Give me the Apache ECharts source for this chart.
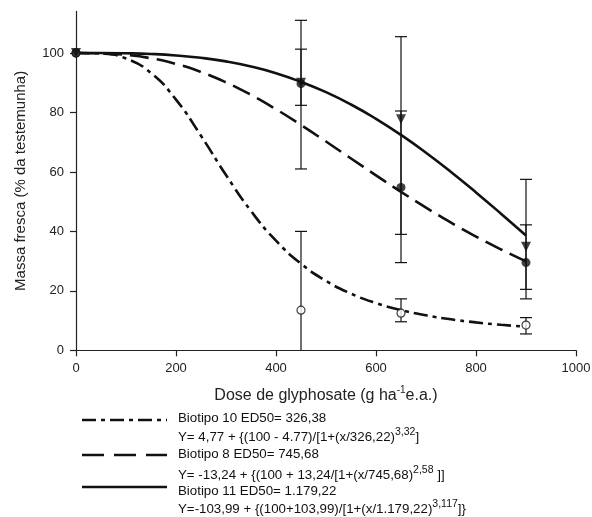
<!DOCTYPE html>
<html>
<head>
<meta charset="utf-8">
<script src="https://cdn.jsdelivr.net/npm/echarts@6/dist/echarts.min.js"></script>
<style>
  html, body { margin: 0; padding: 0; background: #fff; }
  #grafica { width: 592px; height: 517px; }
</style>
</head>
<body>
<div id="grafica"></div>
<script>
// doses com pontos observados
const doses = [0, 450, 650, 900];

// Biotipo 10 (circulo aberto)
const b10Media = [100, 13.5, 12.5, 8.5];
const b10Min = [null, -12, 9.6, 5.5];
const b10Max = [null, 40, 17.3, 11];

// Biotipo 8 (circulo cheio)
const b8Media = [100, 89.7, 54.8, 29.5];
const b8Min = [null, 82.4, 29.5, 17.3];
const b8Max = [null, 101.3, 80.5, 42.2];

// Biotipo 11 (triangulo)
const b11Media = [100, 90, 77.7, 34.8];
const b11Min = [null, 61, 39, 20.5];
const b11Max = [null, 111, 105.5, 57.5];

// curvas ajustadas (x de 0 a 900, passo 50)
const curvaX = [0, 50, 100, 150, 200, 250, 300, 350, 400, 450, 500, 550, 600, 650, 700, 750, 800, 850, 900];
const curva10 = [100, 99.81, 98.16, 93.28, 84.32, 72.15, 58.96, 46.85, 36.86, 29.13, 23.34, 19.06, 15.89, 13.54, 11.77, 10.42, 9.38, 8.57, 7.94];
const curva8 = [100, 99.89, 99.37, 98.22, 96.33, 93.63, 90.13, 85.91, 81.09, 75.81, 70.23, 64.53, 58.85, 53.31, 47.99, 42.96, 38.26, 33.91, 29.9];
const curva11 = [100, 100, 99.91, 99.67, 99.19, 98.39, 97.18, 95.48, 93.22, 90.3, 86.84, 82.68, 77.87, 72.44, 66.46, 59.99, 53.12, 45.96, 38.6];

const ticksY = [0, 20, 40, 60, 80, 100];

const pares = (xs, ys) => xs.map((x, i) => [x, ys[i]]);
const barras = (mins, maxs) => doses
  .map((x, i) => [x, mins[i], maxs[i]])
  .filter(d => d[1] !== null);

const preto = '#111';
const fonte = 'Liberation Sans, Arial, sans-serif';

function desenhaBarra(params, api) {
  const x = api.value(0);
  const lo = api.value(1);
  const hi = api.value(2);
  const top = api.coord([x, hi]);
  const bot = api.coord([x, Math.max(lo, 0)]);
  const w = 6;
  const estilo = { stroke: preto, lineWidth: 1.2 };
  const filhos = [
    { type: 'line', shape: { x1: top[0], y1: top[1], x2: bot[0], y2: bot[1] }, style: estilo },
    { type: 'line', shape: { x1: top[0] - w, y1: top[1], x2: top[0] + w, y2: top[1] }, style: estilo }
  ];
  if (lo >= 0) {
    filhos.push({ type: 'line', shape: { x1: bot[0] - w, y1: bot[1], x2: bot[0] + w, y2: bot[1] }, style: estilo });
  }
  return { type: 'group', children: filhos };
}

const linhaCurva = (nome, dados, tipo) => ({
  name: nome,
  type: 'line',
  data: pares(curvaX, dados),
  smooth: 0.5,
  showSymbol: false,
  silent: true,
  lineStyle: { color: preto, width: 2.6, type: tipo }
});

const legLinha = (y, tipo) => ({
  type: 'line',
  shape: { x1: 82, y1: y, x2: 167, y2: y },
  style: { stroke: preto, lineWidth: 2.6, lineDash: tipo }
});

const legTexto = (y, texto) => ({
  type: 'text',
  x: 178,
  y: y,
  style: {
    text: texto,
    fill: preto,
    font: '13.3px ' + fonte,
    verticalAlign: 'middle',
    rich: {
      sup: { fontSize: 10.5, fontFamily: fonte, fill: preto, padding: [0, 0, 10, 0] }
    }
  }
});

const myChart = echarts.init(document.getElementById('grafica'));

myChart.setOption({
  animation: false,
  backgroundColor: '#fff',
  grid: { left: 76, right: 16, top: 11.4, bottom: 166.7, containLabel: false, outerBoundsMode: 'none' },
  xAxis: {
    type: 'value',
    min: 0,
    max: 1000,
    interval: 200,
    name: 'Dose de glyphosate (g ha{sup|-1}e.a.)',
    nameLocation: 'middle',
    nameGap: 35,
    nameTextStyle: {
      fontFamily: fonte, fontSize: 16, color: '#222',
      rich: { sup: { fontSize: 10, fontFamily: fonte, color: '#222', padding: [0, 0, 10, 0] } }
    },
    axisLine: { lineStyle: { color: '#222', width: 1.2 } },
    axisTick: { length: 6, lineStyle: { color: '#222', width: 1.2 } },
    axisLabel: { color: '#222', fontFamily: fonte, fontSize: 13, margin: 12, formatter: v => String(v) },
    splitLine: { show: false }
  },
  yAxis: {
    type: 'value',
    min: 0,
    max: 114,
    interval: 20,
    name: 'Massa fresca (% da testemunha)',
    nameLocation: 'middle',
    nameGap: 48,
    nameTextStyle: { fontFamily: fonte, fontSize: 15, color: '#222' },
    axisLine: { show: true, lineStyle: { color: '#222', width: 1.2 } },
    axisTick: { show: true, length: 6, customValues: ticksY, lineStyle: { color: '#222', width: 1.2 } },
    axisLabel: {
      color: '#222', fontFamily: fonte, fontSize: 13, margin: 12,
      customValues: ticksY,
      formatter: v => (v > 100 ? '' : String(v))
    },
    splitLine: { show: false }
  },
  series: [
    linhaCurva('Biotipo 10', curva10, [14, 5, 4, 5]),
    linhaCurva('Biotipo 8', curva8, [19, 8]),
    linhaCurva('Biotipo 11', curva11, 'solid'),
    { type: 'custom', renderItem: desenhaBarra, data: barras(b10Min, b10Max), silent: true, z: 3 },
    { type: 'custom', renderItem: desenhaBarra, data: barras(b8Min, b8Max), silent: true, z: 3 },
    { type: 'custom', renderItem: desenhaBarra, data: barras(b11Min, b11Max), silent: true, z: 3 },
    {
      type: 'scatter', data: pares(doses, b10Media), symbol: 'circle', symbolSize: 8, z: 4,
      itemStyle: { color: '#fff', borderColor: preto, borderWidth: 1.2 }
    },
    {
      type: 'scatter', data: pares(doses, b11Media), symbol: 'triangle', symbolRotate: 180, symbolSize: 10, z: 5,
      itemStyle: { color: preto }
    },
    {
      type: 'scatter', data: pares(doses, b8Media), symbol: 'circle', symbolSize: 9, z: 6,
      itemStyle: { color: preto }
    }
  ],
  graphic: [
    legLinha(420, [14, 5, 4, 5]),
    legLinha(455, [22, 10]),
    legLinha(487, null),
    legTexto(418, 'Biotipo 10 ED50= 326,38'),
    legTexto(437, 'Y= 4,77 + {(100 - 4.77)/[1+(x/326,22){sup|3,32}]'),
    legTexto(454, 'Biotipo 8 ED50= 745,68'),
    legTexto(475, 'Y= -13,24 + {(100 + 13,24/[1+(x/745,68){sup|2,58} ]]'),
    legTexto(491, 'Biotipo 11 ED50= 1.179,22'),
    legTexto(509, 'Y=-103,99 + {(100+103,99)/[1+(x/1.179,22){sup|3,117}]}')
  ]
});
</script>
</body>
</html>
